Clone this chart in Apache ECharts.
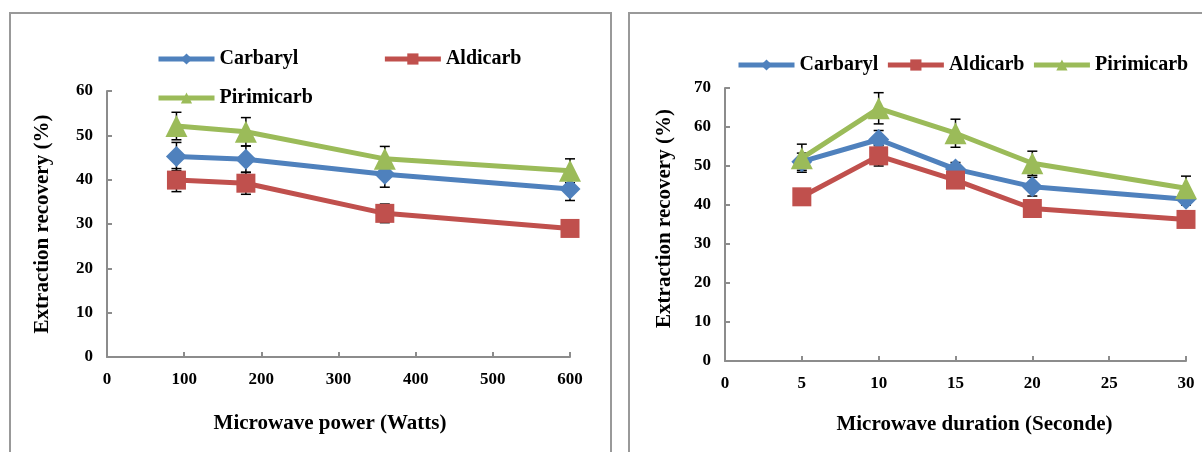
<!DOCTYPE html>
<html>
<head>
    <meta charset="UTF-8">
    <title>Extraction recovery</title>
    <style>
        * { margin: 0; padding: 0; }
        html, body { width: 100%; height: 100%; background: #fff; }
        #main { width: 1202px; height: 452px; }
    </style>
</head>
<body>
    <div id="main"></div>
    <script src="https://cdn.jsdelivr.net/npm/echarts@6/dist/echarts.min.js"></script>
    <script>
        // left panel: microwave power
        const powerX = [90, 180, 360, 600];
        const powerCarbaryl = [45.2, 44.6, 41.2, 37.9];
        const powerCarbarylErr = [3.2, 3.0, 2.9, 2.6];
        const powerAldicarb = [39.9, 39.2, 32.4, 29.0];
        const powerAldicarbErr = [2.6, 2.5, 2.1, 0.8];
        const powerPirimicarb = [52.1, 50.8, 44.7, 42.0];
        const powerPirimicarbErr = [3.1, 3.2, 2.8, 2.7];

        // right panel: microwave duration
        const timeX = [5, 10, 15, 20, 30];
        const timeCarbaryl = [51.1, 56.8, 49.2, 44.7, 41.5];
        const timeCarbarylErr = [2.2, 2.3, 1.7, 2.4, 1.5];
        const timeAldicarb = [42.1, 52.6, 46.4, 39.1, 36.3];
        const timeAldicarbErr = [1.0, 2.6, 1.0, 1.0, 1.0];
        const timePirimicarb = [52.0, 64.8, 58.4, 50.7, 44.3];
        const timePirimicarbErr = [3.6, 4.0, 3.6, 3.1, 3.1];

        const names = ['Carbaryl', 'Aldicarb', 'Pirimicarb'];
        const colors = ['#4F81BD', '#C0504D', '#9BBB59'];
        const symbols = ['diamond', 'rect', 'triangle'];
        const symbolSizes = [21, 19, 22];

        const font = "'Liberation Serif', 'Times New Roman', serif";
        const axisGray = '#8c8c8c';

        const chart = echarts.init(document.getElementById('main'));

        const pairs = (xs, ys) => xs.map((x, i) => [x, ys[i]]);
        const errPairs = (xs, ys, es) => xs.map((x, i) => [x, ys[i] - es[i], ys[i] + es[i]]);

        const errorBar = (params, api) => {
            const x = api.value(0);
            const top = api.coord([x, api.value(2)]);
            const bot = api.coord([x, api.value(1)]);
            const st = { stroke: '#000', lineWidth: 1.5 };
            return {
                type: 'group',
                children: [
                    { type: 'line', shape: { x1: top[0], y1: top[1], x2: bot[0], y2: bot[1] }, style: st },
                    { type: 'line', shape: { x1: top[0] - 5, y1: top[1], x2: top[0] + 5, y2: top[1] }, style: st },
                    { type: 'line', shape: { x1: bot[0] - 5, y1: bot[1], x2: bot[0] + 5, y2: bot[1] }, style: st }
                ]
            };
        };

        const makeSeries = (gi, xs, vals, errs) => {
            const out = [];
            vals.forEach((v, k) => {
                out.push({
                    type: 'custom',
                    xAxisIndex: gi,
                    yAxisIndex: gi,
                    renderItem: errorBar,
                    encode: { x: 0, y: [1, 2] },
                    data: errPairs(xs, v, errs[k]),
                    z: 1,
                    silent: true
                });
            });
            vals.forEach((v, k) => {
                out.push({
                    name: names[k],
                    type: 'line',
                    xAxisIndex: gi,
                    yAxisIndex: gi,
                    data: pairs(xs, v),
                    symbol: symbols[k],
                    symbolSize: symbolSizes[k],
                    color: colors[k],
                    lineStyle: { width: 5, color: colors[k] },
                    itemStyle: { color: colors[k] },
                    z: 2 + k
                });
            });
            return out;
        };

        const axisCommon = {
            axisLine: { lineStyle: { color: axisGray, width: 2 } },
            axisTick: { inside: true, length: 5, lineStyle: { color: axisGray, width: 2 } },
            splitLine: { show: false },
            axisLabel: { color: '#000', fontFamily: font, fontWeight: 'bold', fontSize: 17, margin: 14 },
            nameLocation: 'middle',
            nameTextStyle: { color: '#000', fontFamily: font, fontWeight: 'bold', fontSize: 21 }
        };

        const legendCommon = {
            padding: 0,
            itemWidth: 56,
            itemHeight: 14,
            lineStyle: { width: 5 },
            textStyle: { color: '#000', fontFamily: font, fontWeight: 'bold', fontSize: 20 }
        };

        chart.setOption({
            animation: false,
            backgroundColor: '#fff',
            graphic: [
                { type: 'rect', shape: { x: 10, y: 13, width: 601, height: 460 }, style: { fill: 'none', stroke: '#999', lineWidth: 2 } },
                { type: 'rect', shape: { x: 629, y: 13, width: 600, height: 460 }, style: { fill: 'none', stroke: '#999', lineWidth: 2 } }
            ],
            legend: [
                Object.assign({}, legendCommon, { data: ['Carbaryl', 'Aldicarb'], left: 156, top: 49, itemGap: 84 }),
                Object.assign({}, legendCommon, { data: ['Pirimicarb'], left: 156, top: 88 }),
                Object.assign({}, legendCommon, { data: names, left: 736, top: 55, itemGap: 7 })
            ],
            grid: [
                { left: 107, right: 632, top: 91, bottom: 95 },
                { left: 725, right: 16, top: 88, bottom: 91 }
            ],
            xAxis: [
                Object.assign({}, axisCommon, {
                    type: 'value', gridIndex: 0, min: 0, max: 600, interval: 100,
                    name: 'Microwave power (Watts)', nameGap: 56,
                    nameTextStyle: Object.assign({}, axisCommon.nameTextStyle, { padding: [0, 17, 0, 0] })
                }),
                Object.assign({}, axisCommon, {
                    type: 'value', gridIndex: 1, min: 0, max: 30, interval: 5,
                    name: 'Microwave duration (Seconde)', nameGap: 53,
                    nameTextStyle: Object.assign({}, axisCommon.nameTextStyle, { padding: [0, 0, 0, 38] })
                })
            ],
            yAxis: [
                Object.assign({}, axisCommon, {
                    type: 'value', gridIndex: 0, min: 0, max: 60, interval: 10,
                    name: 'Extraction recovery (%)', nameGap: 54
                }),
                Object.assign({}, axisCommon, {
                    type: 'value', gridIndex: 1, min: 0, max: 70, interval: 10,
                    name: 'Extraction recovery (%)', nameGap: 50,
                    nameTextStyle: Object.assign({}, axisCommon.nameTextStyle, { padding: [0, 0, 0, 12] })
                })
            ],
            series: [].concat(
                makeSeries(0, powerX,
                    [powerCarbaryl, powerAldicarb, powerPirimicarb],
                    [powerCarbarylErr, powerAldicarbErr, powerPirimicarbErr]),
                makeSeries(1, timeX,
                    [timeCarbaryl, timeAldicarb, timePirimicarb],
                    [timeCarbarylErr, timeAldicarbErr, timePirimicarbErr])
            )
        });
    </script>
</body>
</html>
